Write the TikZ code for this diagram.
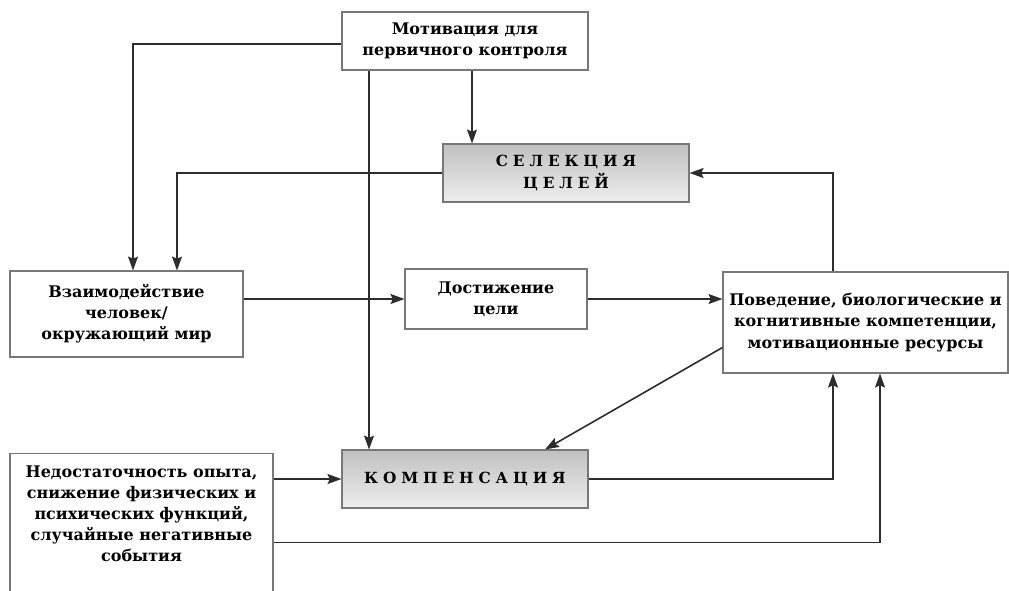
\documentclass[tikz,border=0pt]{standalone}
\usepackage{fontspec}
\setmainfont{DejaVu Serif}
\usepackage{tikz}
\usetikzlibrary{positioning, arrows.meta, calc}
\definecolor{LineColor}{RGB}{45,45,45}
\definecolor{FrameColor}{RGB}{120,120,120}
\definecolor{ShadeTop}{RGB}{192,192,192}
\definecolor{ShadeBottom}{RGB}{238,238,238}
\newcommand{\spaced}[1]{{\addfontfeature{LetterSpace=32}#1}}
\tikzstyle{link} = [line width=1.2pt, LineColor, -{Stealth[length=10.5pt, width=7.5pt, inset=1.8pt]}]
\tikzset{
  box/.style={draw=FrameColor, line width=0.8pt, fill=white, align=center, inner sep=2pt,
    font=\fontsize{12}{15.8}\selectfont\bfseries},
  keybox/.style={box, top color=ShadeTop, bottom color=ShadeBottom,
    font=\fontsize{11.5}{16}\selectfont\bfseries}
}
\begin{document}
\begin{tikzpicture}[x=0.75pt, y=-0.75pt]
    \useasboundingbox (0,0) rectangle (1009,590);

    % Boxes (sizes: pixels x 0.75pt)
    \node[box, minimum width=184.5pt, minimum height=43.5pt] (motiv) at (465,41)
        {Мотивация для\\первичного контроля};
    \node[keybox, minimum width=184.5pt, minimum height=43.5pt] (select) at (566,173)
        {\spaced{СЕЛЕКЦИЯ}\\\spaced{ЦЕЛЕЙ}};
    \node[box, minimum width=174.75pt, minimum height=64.5pt] (inter) at (126.5,314)
        {Взаимодействие\\человек/\\окружающий мир};
    \node[box, minimum width=136.5pt, minimum height=45pt] (goal) at (496,299)
        {Достижение\\цели};
    \node[box, minimum width=213.75pt, minimum height=75.75pt] (behav) at (865.5,322.5)
        {Поведение, биологические и\\когнитивные компетенции,\\мотивационные ресурсы};
    \node[keybox, minimum width=184.5pt, minimum height=43.5pt] (comp) at (465,479)
        {\spaced{КОМПЕНСАЦИЯ}};
    \node[box, anchor=north, minimum width=197.25pt, minimum height=112.5pt] (lack) at (141.5,453)
        {Недостаточность опыта,\\снижение физических и\\психических функций,\\случайные негативные\\события\\[2pt]\strut};

    % Drop points under the motivation box
    \coordinate (dropSel) at ($(motiv.south)+(7,0)$);
    \coordinate (dropComp) at ($(motiv.south)+(-96,0)$);

    % Connectors from the motivation box
    \draw[link] ($(motiv.west)+(0,3)$) -| ($(inter.north)+(6.5,0)$);
    \draw[link] (dropSel) -- (dropSel |- select.north);
    \draw[link] (dropComp) -- (dropComp |- comp.north);

    % Goal selection feeds the interaction
    \draw[link] (select.west) -| ($(inter.north)+(50.5,0)$);

    % Main chain
    \draw[link] (inter.east |- goal.west) -- (goal.west);
    \draw[link] (goal.east) -- (goal.east -| behav.west);
    \draw[link] ($(behav.north)+(-32.5,0)$) |- (select.east);
    \draw[link] ($(behav.west)+(0,25)$) -- ($(comp.north)+(80,0)$);

    % Compensation and losses
    \draw[link] (lack.east |- comp.west) -- (comp.west);
    \draw[link] (comp.east) -| ($(behav.south)+(-32.5,0)$);
    \draw[link] ($(lack.east)+(0,14)$) -| ($(behav.south)+(14.5,0)$);
\end{tikzpicture}
\end{document}
